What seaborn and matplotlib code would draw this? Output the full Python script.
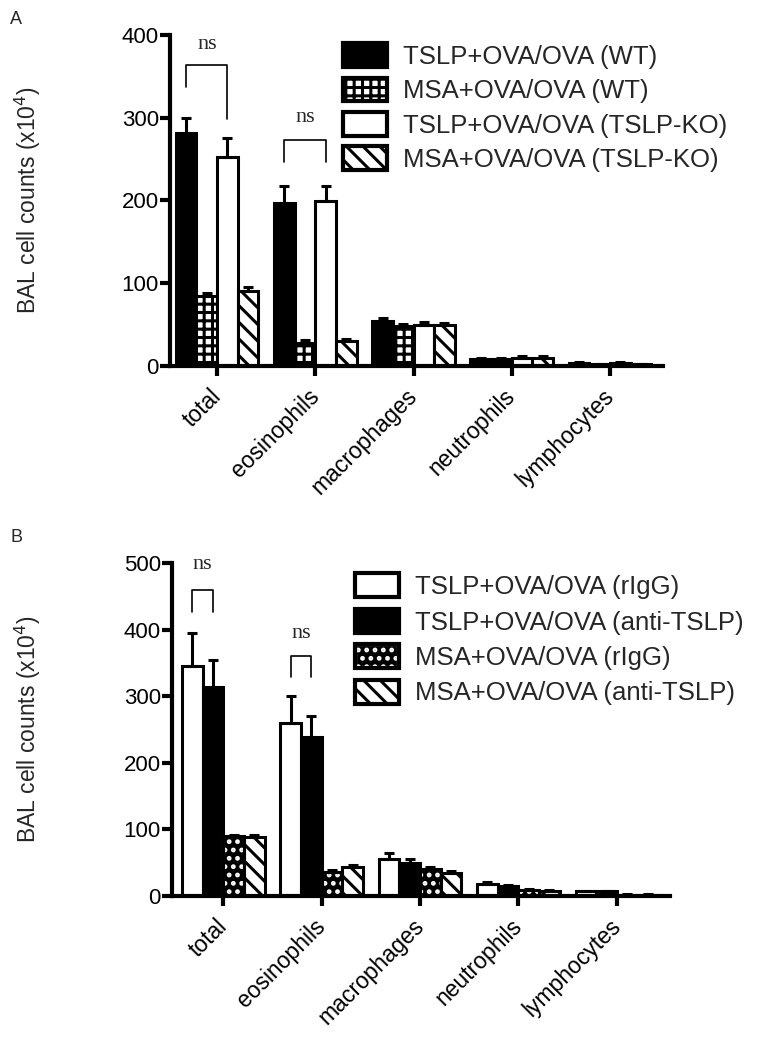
import numpy as np
import pandas as pd
import matplotlib
matplotlib.use('Agg')
import matplotlib.pyplot as plt
import matplotlib.transforms as mtrans
import seaborn as sns
from matplotlib.patches import Patch, Rectangle

sns.set_style('ticks')
plt.rcParams['font.family'] = ['Liberation Sans', 'DejaVu Sans']
plt.rcParams['hatch.linewidth'] = 2.2
plt.rcParams['axes.edgecolor'] = 'black'
plt.rcParams['xtick.color'] = 'black'
plt.rcParams['ytick.color'] = 'black'

cells = ['total', 'eosinophils', 'macrophages', 'neutrophils', 'lymphocytes']

# panel A
a_groups = ['TSLP+OVA/OVA (WT)', 'MSA+OVA/OVA (WT)',
            'TSLP+OVA/OVA (TSLP-KO)', 'MSA+OVA/OVA (TSLP-KO)']
a_wt_tslp = [282, 197, 54, 8, 4]
a_wt_msa = [85, 28, 48, 8, 2]
a_ko_tslp = [253, 199, 50, 10, 4]
a_ko_msa = [90, 30, 49, 10, 2]
a_wt_tslp_err = [18, 20, 4, 2, 1]
a_wt_msa_err = [3, 3, 3, 2, 0.5]
a_ko_tslp_err = [22, 18, 3, 2, 1]
a_ko_msa_err = [5, 3, 3, 1.5, 0.5]

# panel B
b_groups = ['TSLP+OVA/OVA (rIgG)', 'TSLP+OVA/OVA (anti-TSLP)',
            'MSA+OVA/OVA (rIgG)', 'MSA+OVA/OVA (anti-TSLP)']
b_rigg_tslp = [345, 260, 56, 18, 7]
b_anti_tslp = [314, 239, 50, 15, 7]
b_rigg_msa = [90, 36, 40, 9, 2]
b_anti_msa = [88, 43, 34, 8, 2]
b_rigg_tslp_err = [50, 40, 8, 3, 1]
b_anti_tslp_err = [40, 32, 6, 2, 1]
b_rigg_msa_err = [2, 3, 3, 1, 0.5]
b_anti_msa_err = [3, 3, 3, 1, 0.5]

a_styles = ['black', 'checker', 'white', 'diag']
b_styles = ['white', 'black', 'dots', 'diag']

EDGE = 2.2


def style_kw(s):
    if s == 'black':
        return dict(facecolor='black', edgecolor='black')
    if s == 'white':
        return dict(facecolor='white', edgecolor='black')
    if s == 'diag':
        return dict(facecolor='white', edgecolor='black', hatch='\\\\')
    if s == 'checker':
        return dict(facecolor='white', edgecolor='black', hatch='++')
    if s == 'dots':
        return dict(facecolor='black', edgecolor='white', hatch='..')


def make_df(groups, series):
    rows = []
    for g, vals in zip(groups, series):
        for c, v in zip(cells, vals):
            rows.append({'cell': c, 'group': g, 'value': v})
    return pd.DataFrame(rows)


def draw_panel(fig, ax, groups, series, errs, styles, ymax, step):
    df = make_df(groups, series)
    sns.barplot(data=df, x='cell', y='value', hue='group', hue_order=groups,
                order=cells, width=0.84, ax=ax, legend=False, errorbar=None)
    for cont, err, s in zip(ax.containers, errs, styles):
        xs, ys = [], []
        for p in cont.patches:
            kw = style_kw(s)
            p.set_facecolor(kw['facecolor'])
            p.set_edgecolor(kw['edgecolor'])
            p.set_linewidth(EDGE)
            if 'hatch' in kw:
                p.set_hatch(kw['hatch'])
            if s == 'dots':
                ax.add_patch(Rectangle(p.get_xy(), p.get_width(), p.get_height(),
                                       facecolor='none', edgecolor='black',
                                       linewidth=EDGE, zorder=p.get_zorder() + 0.1))
            xs.append(p.get_x() + p.get_width() / 2)
            ys.append(p.get_height())
        ax.errorbar(xs, ys, yerr=[np.zeros(len(err)), err], fmt='none',
                    ecolor='black', elinewidth=2.2, capsize=3.5, capthick=2.2,
                    zorder=1)
    ax.set_ylim(0, ymax)
    ax.set_yticks(np.arange(0, ymax + 1, step))
    ax.set_xlabel('')
    ax.set_ylabel('BAL cell counts (x10$^4$)', fontsize=16.5)
    sns.despine(ax=ax)
    for sp in ['left', 'bottom']:
        ax.spines[sp].set_linewidth(3)
    ax.tick_params(axis='both', width=3, length=7)
    ax.tick_params(axis='y', pad=1, labelsize=16)
    ax.tick_params(axis='x', pad=2, labelsize=16.5)
    shift = mtrans.ScaledTranslation(-8 / 100, -6 / 100, fig.dpi_scale_trans)
    for lab in ax.get_xticklabels():
        lab.set_rotation(45)
        lab.set_ha('right')
        lab.set_rotation_mode('anchor')
        lab.set_transform(lab.get_transform() + shift)
    handles = []
    for s in styles:
        kw = style_kw(s)
        if s == 'dots':
            handles.append((Patch(linewidth=3, **kw),
                            Patch(facecolor='none', edgecolor='black', linewidth=3)))
        else:
            handles.append(Patch(linewidth=3, **kw))
    return handles


def bracket(ax, x1, x2, ytop, yl, yr, ytext):
    ax.plot([x1, x1, x2, x2], [yl, ytop, ytop, yr], color='black', lw=1.2,
            clip_on=False)
    ax.text((x1 + x2) / 2, ytext, 'ns', ha='center', va='center', fontsize=16,
            family='Liberation Serif')


fig = plt.figure(figsize=(7.67, 10.48), dpi=100)

axA = fig.add_axes([0.2216, 0.6508, 0.6428, 0.3158])
hA = draw_panel(fig, axA, a_groups, [a_wt_tslp, a_wt_msa, a_ko_tslp, a_ko_msa],
                [a_wt_tslp_err, a_wt_msa_err, a_ko_tslp_err, a_ko_msa_err],
                a_styles, 400, 100)
axA.set_xlim(-0.48, 4.54)
axA.yaxis.set_label_coords(-0.258, 0.5)
bracket(axA, -0.315, 0.105, 364, 337, 298, 388)
bracket(axA, 0.685, 1.105, 273, 247, 247, 300)
fig.legend(hA, a_groups, loc='upper left', bbox_to_anchor=(0.447, 0.9585),
           frameon=False, fontsize=18.5, handlelength=1.72, handleheight=1.05,
           handletextpad=0.62, labelspacing=0.33, borderpad=0, borderaxespad=0)

axB = fig.add_axes([0.2243, 0.145, 0.6493, 0.3177])
hB = draw_panel(fig, axB, b_groups, [b_rigg_tslp, b_anti_tslp, b_rigg_msa, b_anti_msa],
                [b_rigg_tslp_err, b_anti_tslp_err, b_rigg_msa_err, b_anti_msa_err],
                b_styles, 500, 100)
axB.set_xlim(-0.52, 4.54)
axB.yaxis.set_label_coords(-0.259, 0.5)
bracket(axB, -0.315, -0.105, 460, 426, 426, 498)
bracket(axB, 0.685, 0.895, 361, 329, 329, 395)
fig.legend(hB, b_groups, loc='upper left', bbox_to_anchor=(0.4628, 0.4528),
           frameon=False, fontsize=18.5, handlelength=1.72, handleheight=1.05,
           handletextpad=0.62, labelspacing=0.38, borderpad=0, borderaxespad=0)

fig.text(10 / 767, 1 - 20 / 1048, 'A', fontsize=13, va='center')
fig.text(10 / 767, 1 - 537 / 1048, 'B', fontsize=13, va='center')

fig.savefig('out.png', dpi=100)
